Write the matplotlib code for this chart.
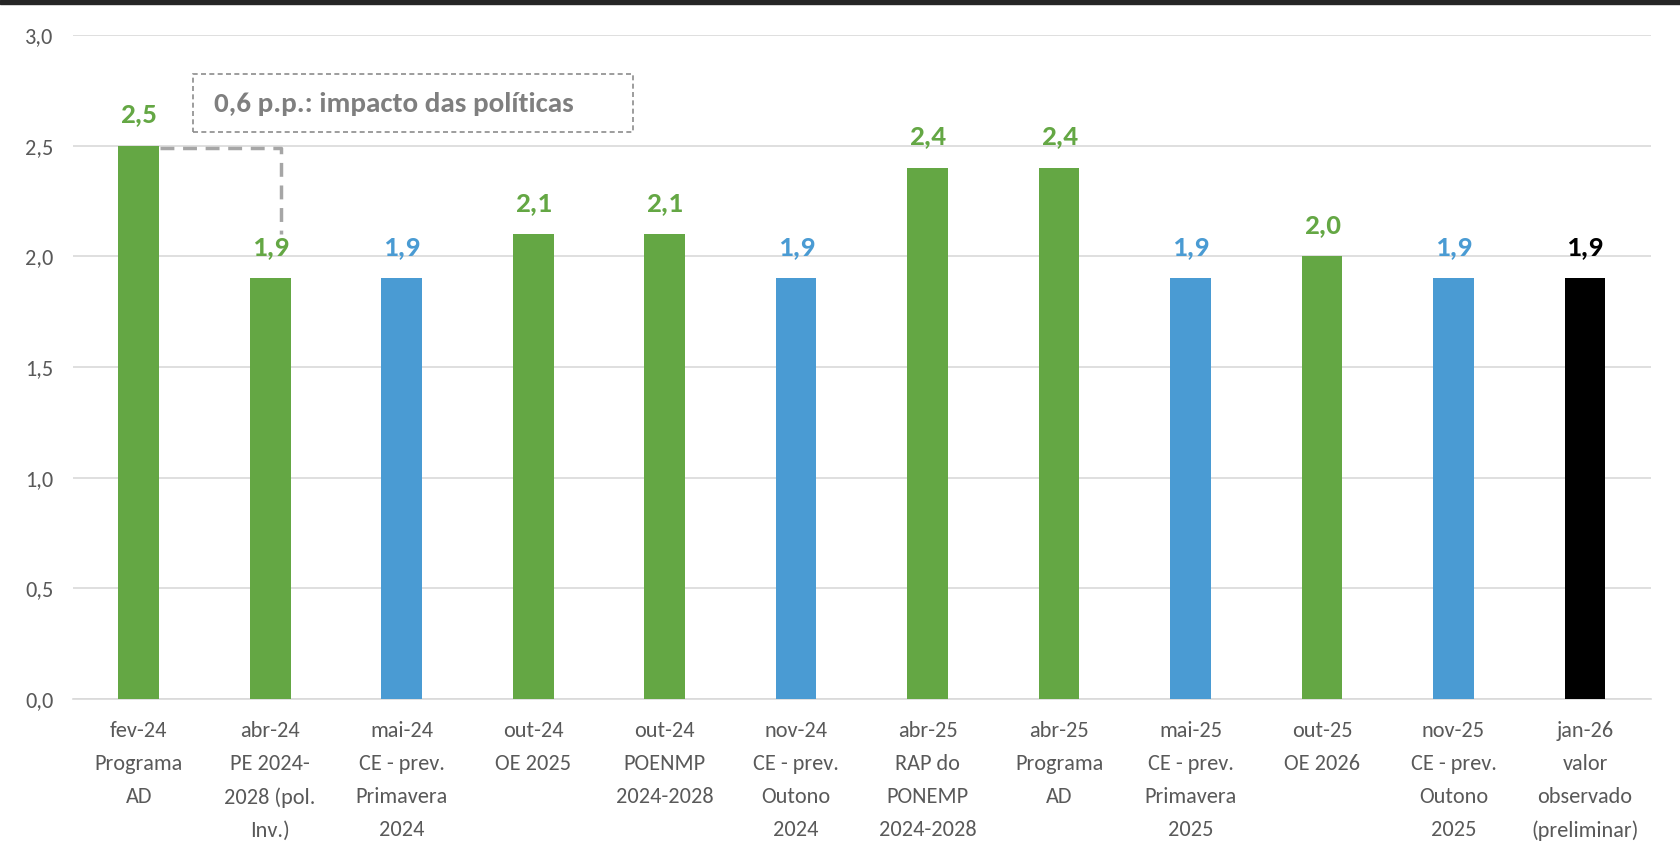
import matplotlib
matplotlib.use("Agg")
import matplotlib.pyplot as plt
from matplotlib import font_manager
from matplotlib.patches import Rectangle

# pick a narrow-ish font if there is one
names = set(f.name for f in font_manager.fontManager.ttflist)
fam = "DejaVu Sans"
for f in ["Carlito", "Liberation Sans Narrow", "Lato", "Open Sans"]:
    if f in names:
        fam = f
        break
plt.rcParams['font.family'] = fam

categories = ["fev-24\nPrograma\nAD",
              "abr-24\nPE 2024-\n2028 (pol.\nInv.)",
              "mai-24\nCE - prev.\nPrimavera\n2024",
              "out-24\nOE 2025",
              "out-24\nPOENMP\n2024-2028",
              "nov-24\nCE - prev.\nOutono\n2024",
              "abr-25\nRAP do\nPONEMP\n2024-2028",
              "abr-25\nPrograma\nAD",
              "mai-25\nCE - prev.\nPrimavera\n2025",
              "out-25\nOE 2026",
              "nov-25\nCE - prev.\nOutono\n2025",
              "jan-26\nvalor\nobservado\n(preliminar)"]
values = [2.5, 1.9, 1.9, 2.1, 2.1, 1.9, 2.4, 2.4, 1.9, 2.0, 1.9, 1.9]
kinds = ["gov", "gov", "ce", "gov", "gov", "ce", "gov", "gov", "ce", "gov", "ce", "obs"]
yticks = [0.0, 0.5, 1.0, 1.5, 2.0, 2.5, 3.0]
note = "0,6 p.p.: impacto das políticas"

cmap = {"gov": "#64A744", "ce": "#4A9BD3", "obs": "#000000"}
colors = [cmap[k] for k in kinds]

fig = plt.figure(figsize=(16.81, 8.51), dpi=100)
ax = fig.add_axes([0.0434, 0.1786, 0.9386, 0.7803])

x = list(range(len(values)))
ax.bar(x, values, width=0.31, color=colors, zorder=3)

for i, v in enumerate(values):
    ax.annotate(f"{v:.1f}".replace(".", ","), (i, v), xytext=(0, 14),
                textcoords="offset points", ha="center", va="bottom",
                fontsize=21, fontweight="bold", color=colors[i])

ax.set_xlim(-0.5, len(values) - 0.5)
ax.set_ylim(0, 3.0)
ax.set_yticks(yticks)
ax.set_yticklabels([f"{t:.1f}".replace(".", ",") for t in yticks])
ax.set_xticks(x)
ax.set_xticklabels(categories, linespacing=1.8)
ax.tick_params(axis="both", length=0, labelsize=16, colors="#595959")
ax.tick_params(axis="x", pad=16)
ax.tick_params(axis="y", pad=14)
ax.grid(axis="y", color="#D9D9D9", lw=1.2, zorder=0)
for s in ["top", "right", "left"]:
    ax.spines[s].set_visible(False)
ax.spines["bottom"].set_color("#D9D9D9")
ax.spines["bottom"].set_linewidth(1.2)

# policy impact annotation
ax.plot([0.16, 1.08, 1.08], [2.49, 2.49, 2.10], color="#A6A6A6", lw=2.5,
        ls=(0, (4, 2.5)), zorder=4, clip_on=False)
ax.add_patch(Rectangle((0.41, 2.56), 3.35, 0.265, fill=False, ec="#8C8C8C",
                       lw=1.2, ls=(0, (3, 2)), zorder=4))
ax.text(0.57, 2.69, note, fontsize=21, fontweight="bold", color="#7F7F7F",
        ha="left", va="center", zorder=5)

# thin dark band at top of the picture
fig.add_artist(Rectangle((0, 0.995), 1, 0.005, transform=fig.transFigure,
                         color="#262626"))

fig.savefig("out.png", dpi=100, facecolor="white")
